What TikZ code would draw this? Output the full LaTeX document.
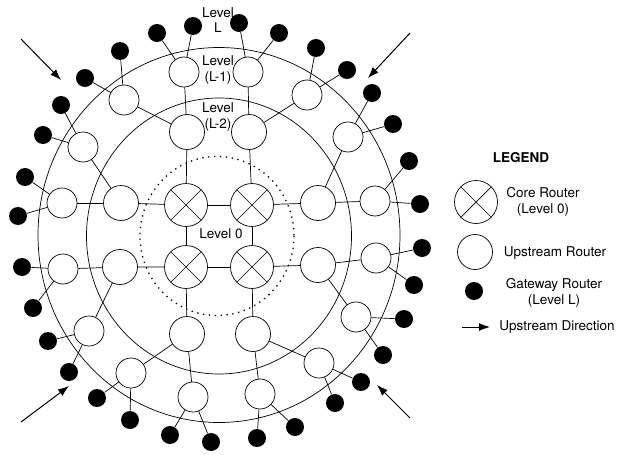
\documentclass[tikz,border=0pt]{standalone}
\usepackage{fontspec}
\setmainfont{TeX Gyre Heros}
\usetikzlibrary{arrows.meta}

\tikzset{
  core/.style={circle,draw,fill=white,minimum size=43pt,inner sep=0pt,
    path picture={\draw (path picture bounding box.north west) -- (path picture bounding box.south east)
      (path picture bounding box.north east) -- (path picture bounding box.south west);}},
  hop/.style={circle,draw,fill=white,minimum size=30pt,inner sep=0pt},
  bighop/.style={hop,minimum size=35pt},
  gw/.style={circle,fill=black,minimum size=18pt,inner sep=0pt},
  lbl/.style={align=center,inner sep=1pt,font=\fontsize{13.5}{15.5}\selectfont},
  flow/.style={-{Latex[length=11pt,width=8pt]},line width=1pt},
}

\begin{document}
\begin{tikzpicture}[x=1pt,y=-1pt,line width=0.7pt]
  \useasboundingbox (0,0) rectangle (619,455);

  % level rings
  \draw (219,235) ellipse [x radius=181, y radius=187.5];
  \draw (219,236) ellipse [x radius=132.5, y radius=138];
  \draw[line width=1.3pt,dash pattern=on 1.3pt off 4.6pt] (217,236) ellipse [x radius=77, y radius=79.5];

  % level 0 core
  \node[core] (c1) at (186,205) {};
  \node[core] (c2) at (252,205) {};
  \node[core] (c3) at (186,267) {};
  \node[core] (c4) at (252,267) {};
  \draw (c1) -- (c2) -- (c4) -- (c3) -- (c1);
  \node[lbl] (lvl0) at (221,234) {Level 0};

  % level L-2
  \node[bighop] (ma) at (187,132) {};
  \node[bighop] (mb) at (249,132) {};
  \node[bighop] (mc) at (121,203) {};
  \node[bighop] (md) at (318,203) {};
  \node[bighop] (me) at (120,267) {};
  \node[bighop] (mf) at (318,265) {};
  \node[bighop] (mg) at (187,334) {};
  \node[bighop] (mh) at (253,334) {};
  \draw (c1) -- (ma) (c1) -- (mc);
  \draw (c2) -- (mb) (c2) -- (md);
  \draw (c3) -- (me) (c3) -- (mg);
  \draw (c4) -- (mf) (c4) -- (mh);

  % level L-1, each hung on its L-2 router
  \foreach \n/\x/\y/\p in {1/184/72/ma, 2/124/100/ma, 3/248/72/mb, 4/307/95/mb,
      5/83/147/mc, 6/62/203/mc, 7/348/137/md, 8/375/201/md,
      9/63/269/me, 10/89/331/me, 11/376/258/mf, 12/356/317/mf,
      13/131/373/mg, 14/193/397/mg, 15/260/394/mh, 16/319/363/mh} {
    \node[hop] (u\n) at (\x,\y) {};
    \draw (\p) -- (u\n);
  }

  % level L gateways, two per L-1 router
  \foreach \n/\ax/\ay/\bx/\by in {1/193/26/157/33, 2/120/51/85/78, 3/239/23/279/33,
      4/316/48/347/70, 5/61/105/43/135, 6/25/177/18/216, 7/372/93/393/124,
      8/409/161/420/204, 9/22/267/33/308, 10/48/341/69/372, 11/422/248/414/285,
      12/404/319/383/355, 13/97/398/130/420, 14/170/435/211/442,
      15/257/438/295/427, 16/361/382/335/403} {
    \node[gw] (g\n a) at (\ax,\ay) {};
    \node[gw] (g\n b) at (\bx,\by) {};
    \draw (u\n) -- (g\n a) (u\n) -- (g\n b);
  }

  \node[lbl] (lvlL) at (218,20) {Level\\L};
  \node[lbl] (lvl1) at (218,70) {Level\\(L-1)};
  \node[lbl] (lvl2) at (218,117) {Level\\(L-2)};

  % upstream direction
  \coordinate (nw0) at (21,39);  \coordinate (nw1) at (61,80);
  \coordinate (ne0) at (410,33); \coordinate (ne1) at (368,78);
  \coordinate (sw0) at (21,422); \coordinate (sw1) at (69,386);
  \coordinate (se0) at (410,418); \coordinate (se1) at (377,385);
  \draw[flow] (nw0) -- (nw1);
  \draw[flow] (ne0) -- (ne1);
  \draw[flow] (sw0) -- (sw1);
  \draw[flow] (se0) -- (se1);

  % legend
  \node[lbl,font=\fontsize{13.5}{15.5}\selectfont\bfseries] (legend) at (521,158) {LEGEND};
  \node[core] (kcore) at (476,202) {};
  \node[lbl] (kcoret) at (543,202) {Core Router\\(Level 0)};
  \node[bighop] (khop) at (475,252) {};
  \node[lbl] (khopt) at (555,253) {Upstream Router};
  \node[gw] (kgw) at (474,291) {};
  \node[lbl] (kgwt) at (554,293) {Gateway Router\\(Level L)};
  \coordinate (ka) at (462,327); \coordinate (kb) at (490,327);
  \draw[flow] (ka) -- (kb);
  \node[lbl] (kflow) at (557,327) {Upstream Direction};
\end{tikzpicture}
\end{document}
